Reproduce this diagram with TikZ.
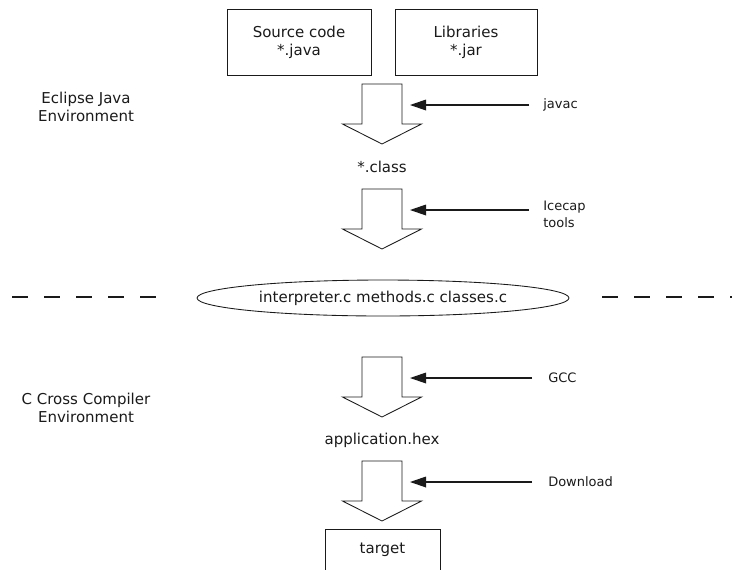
\documentclass[tikz,border=0pt]{standalone}
\usepackage{fontspec}
\setmainfont{DejaVu Sans}
\usetikzlibrary{shapes.geometric,arrows.meta}
\definecolor{ink}{HTML}{1A1A1A}
\newcommand{\mainsz}{\fontsize{11.25}{13.5}\selectfont}
\newcommand{\smallsz}{\fontsize{9.75}{12.75}\selectfont}
\tikzset{
  box/.style={draw=ink, line width=0.65pt, minimum width=108pt, minimum height=49.5pt, align=center, text=ink, font=\mainsz},
  oval/.style={draw=ink, ellipse, line width=0.65pt, minimum width=279pt, minimum height=27pt, inner sep=0pt, text=ink, font=\mainsz},
  lab/.style={text=ink, font=\mainsz, align=center},
  labs/.style={text=ink, font=\smallsz, anchor=west, inner sep=0pt, align=left},
  blk/.style={draw=ink, line width=0.65pt, line join=miter},
  feed/.style={draw=ink, line width=0.9pt, -{Triangle[length=12pt,width=8pt]}, shorten <=10.5pt, shorten >=6pt},
  sep/.style={draw=ink, line width=1pt, dash pattern=on 12pt off 12pt},
  fatarrow/.pic={
    \draw[blk] (-20,0) -- (-20,40) -- (-39.5,40) -- (0,60) -- (39.5,40) -- (20,40) -- (20,0) -- cycle;
    \coordinate (-in) at (20,21);
  },
}

\begin{document}
\begin{tikzpicture}[x=0.75pt, y=-0.75pt]
  \clip (0,0) rectangle (732,569);
  % inputs
  \node[box] (src) at (299,42) {Source code\\*.java};
  \node[box, minimum width=106.5pt] (lib) at (466,42) {Libraries\\*.jar};
  \node[lab] (eclipse) at (86,107) {Eclipse Java\\Environment};
  % java side
  \pic (a1) at (382,84) {fatarrow};
  \node[labs] (javac) at (543,105) {javac};
  \draw[feed] (javac.west) -- (a1-in);
  \node[lab] (cls) at (382,167) {*.class};
  \pic (a2) at (382,189) {fatarrow};
  \node[labs] (icecap) at (543,214) {Icecap\\tools};
  \draw[feed] (a2-in -| icecap.west) -- (a2-in);
  % border between the two worlds
  \node[oval] (csrc) at (383,298) {interpreter.c methods.c classes.c};
  \draw[sep] (12,297) -- (160,297);
  \draw[sep] (602,297) -- (750,297);
  % C side
  \node[lab] (cross) at (86,408) {C Cross Compiler\\Environment};
  \pic (a3) at (382,357) {fatarrow};
  \node[labs] (gcc) at (548,378) {GCC};
  \draw[feed, shorten <=12pt] (gcc.west) -- (a3-in);
  \node[lab] (hex) at (382,440) {application.hex};
  \pic (a4) at (382,461) {fatarrow};
  \node[labs] (dl) at (548,482) {Download};
  \draw[feed, shorten <=12pt] (dl.west) -- (a4-in);
  \node[box, minimum width=86.25pt, minimum height=31.5pt] (target) at (382.5,550) {target};
\end{tikzpicture}
\end{document}
